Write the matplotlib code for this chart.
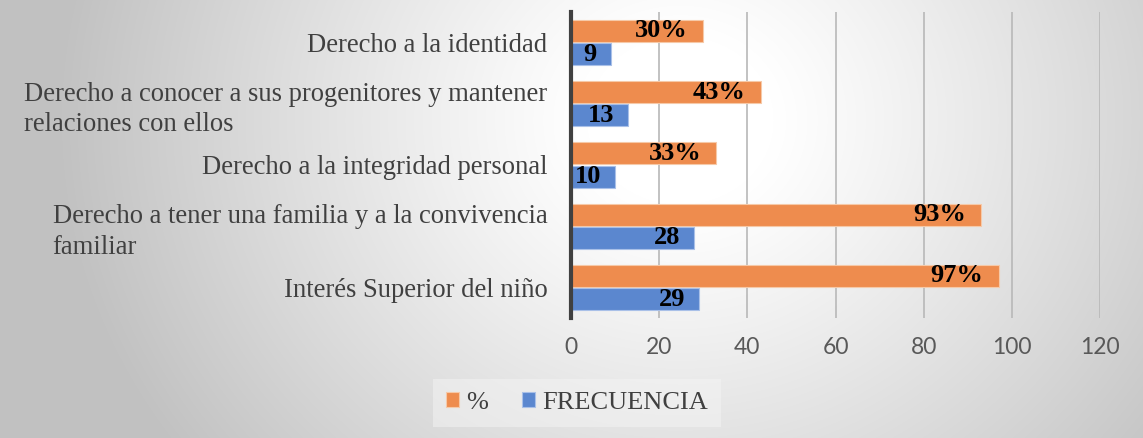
import numpy as np
import matplotlib
matplotlib.use("Agg")
from matplotlib import pyplot as plt

# data (bottom to top, as drawn)
categorias = [
    "Interés Superior del niño",
    "Derecho a tener una familia y a la convivencia\nfamiliar",
    "Derecho a la integridad personal",
    "Derecho a conocer a sus progenitores y mantener\nrelaciones con ellos",
    "Derecho a la identidad",
]
porcentaje = [97, 93, 33, 43, 30]
frecuencia = [29, 28, 10, 13, 9]
xticks = [0, 20, 40, 60, 80, 100, 120]

naranja = "#EE8C4E"
azul = "#5B87CF"

fig = plt.figure(figsize=(11.43, 4.38), dpi=100)

# gradient background of the whole chart area
bg = fig.add_axes([0, 0, 1, 1], zorder=-10)
W, H = 1143, 438
xx, yy = np.meshgrid(np.arange(W), np.arange(H))
t = np.sqrt(((xx - 680) / 620.0) ** 2 + ((yy - 120) / 560.0) ** 2)
t = np.clip((t - 0.15) / 0.85, 0, 1)
val = 1.0 - 0.24 * t ** 1.1
bg.imshow(np.dstack([val, val, val]), extent=[0, W, H, 0], aspect="auto")
bg.axis("off")

ax = fig.add_axes([571 / W, 1 - 318 / H, (1100 - 571) / W, (318 - 12) / H])
ax.patch.set_alpha(0)

y = np.arange(len(categorias))
h = 0.36
b1 = ax.barh(y + 0.19, porcentaje, height=h, color=naranja, edgecolor="#F6C9A8",
             linewidth=0.8, label="%", zorder=3)
b2 = ax.barh(y - 0.19, frecuencia, height=h, color=azul, edgecolor="#A9C0E8",
             linewidth=0.8, label="FRECUENCIA", zorder=3)

lab_font = dict(family="Liberation Serif", fontsize=19, fontweight="bold", color="black")
for yi, v in zip(y, porcentaje):
    ax.annotate(f"{v}%", (v, yi + 0.19), xytext=(-11, 0), textcoords="offset points",
                ha="right", va="center", zorder=5, **lab_font)
for yi, v in zip(y, frecuencia):
    ax.annotate(f"{v}", (v, yi - 0.19), xytext=(-10, 0), textcoords="offset points",
                ha="right", va="center", zorder=5, **lab_font)

ax.set_xlim(0, 120)
ax.set_ylim(-0.5, 4.5)
ax.set_xticks(xticks)
ax.set_xticklabels([str(v) for v in xticks], family="Lato", fontsize=16.5, color="#595959")
ax.set_yticks(y)
ax.set_yticklabels(categorias, family="Liberation Serif", fontsize=19.2, color="#404040",
                   linespacing=1.28)
for tl in ax.get_yticklabels():
    tl.set_multialignment("left")
ax.tick_params(axis="both", length=0)
ax.tick_params(axis="y", pad=17)
ax.tick_params(axis="x", pad=14)

ax.grid(axis="x", color="#b8b8b8", linewidth=1.2, zorder=0)
for s in ["top", "right", "bottom"]:
    ax.spines[s].set_visible(False)
ax.spines["left"].set_color("#404040")
ax.spines["left"].set_linewidth(3)
ax.spines["left"].set_zorder(6)

leg = fig.legend(handles=[b1, b2], loc="center", bbox_to_anchor=(577 / W, 1 - 403 / H),
                 ncol=2, frameon=True, fancybox=False, handlelength=0.5, handleheight=0.5,
                 handletextpad=0.25, columnspacing=1.3, borderpad=0.5,
                 prop=dict(family="Liberation Serif", size=19))
leg.get_frame().set_facecolor("#f4f4f4")
leg.get_frame().set_edgecolor("none")
leg.get_frame().set_alpha(0.5)
for txt in leg.get_texts():
    txt.set_color("#404040")

fig.savefig("out.png", dpi=100)
